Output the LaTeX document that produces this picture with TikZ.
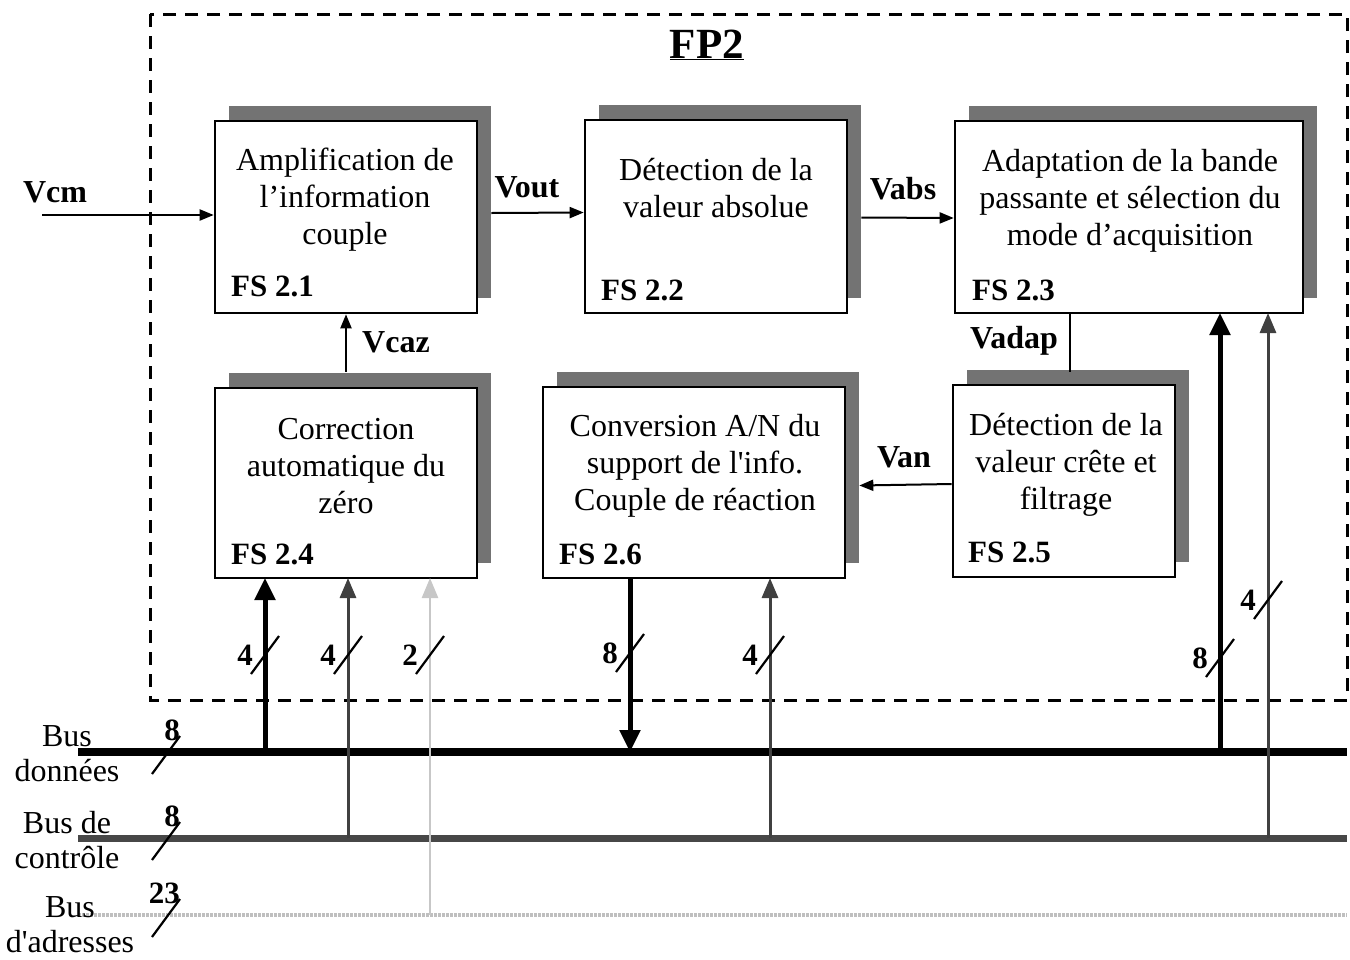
\documentclass[tikz,border=0pt]{standalone}
\usepackage{fontspec}
\setmainfont{Liberation Serif}[Ligatures=TeXOff]
\usetikzlibrary{arrows.meta,shadows,calc}
\begin{document}
\begin{tikzpicture}[x=1pt,y=-1pt,
  blk/.style={draw=black,line width=2.6pt,fill=white,inner sep=0pt,
    drop shadow={shadow xshift=14pt,shadow yshift=15pt,fill=black!55,opacity=1}},
  txt/.style={align=center,font=\fontsize{32}{37}\selectfont,inner sep=0pt},
  fslab/.style={anchor=west,font=\bfseries\fontsize{31}{34}\selectfont,inner sep=0pt},
  sig/.style={font=\bfseries\fontsize{32}{34}\selectfont,inner sep=0pt},
  num/.style={font=\bfseries\fontsize{31}{34}\selectfont,inner sep=0pt},
  thinarr/.style={line width=2pt,-{Triangle[length=14pt,width=11pt]}},
  busarrow/.style={line width=5pt,-{Triangle[length=22pt,width=20pt]}},
  ctlarrow/.style={line width=3pt,draw=black!75,-{Triangle[length=20pt,width=16pt]}},
  adrarrow/.style={line width=2.5pt,draw=black!22,-{Triangle[length=20pt,width=16pt]}},
  slash/.style={line width=2.2pt},
  buslab/.style={align=center,font=\fontsize{32}{35}\selectfont,inner sep=0pt}]
\useasboundingbox (0,0) rectangle (1350,959);
% frame
\draw[line width=3pt,dash pattern=on 13pt off 9pt] (150,14) rectangle (1347,700);
\node[font=\bfseries\fontsize{43}{46}\selectfont,inner sep=0pt] (fp2) at (707,45) {\underline{FP2}};
% blocks
\node[blk,minimum width=262pt,minimum height=192pt] (fs21) at (346,217) {};
\node[blk,minimum width=262pt,minimum height=193pt] (fs22) at (716,216.5) {};
\node[blk,minimum width=348pt,minimum height=192pt] (fs23) at (1129,217) {};
\node[blk,minimum width=262pt,minimum height=190pt] (fs24) at (346,483) {};
\node[blk,minimum width=302pt,minimum height=191pt] (fs26) at (694,482.5) {};
\node[blk,minimum width=222pt,minimum height=192pt] (fs25) at (1064,481) {};
% block texts
\node[txt] (t21) at (345,200) {Amplification de\\l’information\\couple};
\node[txt] (t22) at (716,188) {Détection de la\\valeur absolue};
\node[txt] (t23) at (1130,201) {Adaptation de la bande\\passante et sélection du\\mode d’acquisition};
\node[txt] (t24) at (346,466) {Correction\\automatique du\\zéro};
\node[txt] (t26) at (695,466) {Conversion A/N du\\support de l'info.\\Couple de réaction};
\node[txt] (t25) at (1066,465) {Détection de la\\valeur crête et\\filtrage};
\node[fslab] (l21) at (231,286) {FS 2.1};
\node[fslab] (l22) at (601,290) {FS 2.2};
\node[fslab] (l23) at (972,290) {FS 2.3};
\node[fslab] (l24) at (231,554) {FS 2.4};
\node[fslab] (l26) at (559,554) {FS 2.6};
\node[fslab] (l25) at (968,552) {FS 2.5};
% signals
\coordinate (vcmin) at (42,215);
\draw[thinarr] (vcmin) -- (fs21.west |- vcmin);
\node[sig] (vcm) at (55,192) {Vcm};
\draw[thinarr] ($(fs21.east)+(13,-4)$) -- ($(fs22.west)+(0,-4)$);
\node[sig] (vout) at (527,187) {Vout};
\draw[thinarr] ($(fs22.east)+(13,1)$) -- ($(fs23.west)+(0,1)$);
\node[sig] (vabs) at (903,189) {Vabs};
\draw[thinarr] ($(fs24.north)+(0,-15)$) -- (fs21.south);
\node[sig] (vcaz) at (396,342) {Vcaz};
\draw[line width=2pt] (fs23.south -| 1070,0) -- (1070,372);
\node[sig] (vadap) at (1014,341) {Vadap};
\draw[thinarr] ($(fs25.west)+(0,3)$) -- ($(fs26.east)+(13,3)$);
\node[sig] (van) at (904,457) {Van};
% buses
\coordinate (bd0) at (78,752); \coordinate (bd1) at (1347,752);
\coordinate (bc0) at (78,838); \coordinate (bc1) at (1347,838);
\coordinate (ba0) at (78,915); \coordinate (ba1) at (1347,915);
\draw[line width=8pt] (bd0) -- (bd1);
\draw[line width=7pt,draw=black!72] (bc0) -- (bc1);
\draw[line width=4pt,draw=black!25,dash pattern=on 3pt off 1pt] (ba0) -- (ba1);
\node[buslab] (nbd) at (67,754) {Bus\\données};
\node[buslab] (nbc) at (67,840) {Bus de\\contrôle};
\node[buslab] (nba) at (70,925) {Bus\\d'adresses};
\foreach \y/\n in {755/8,841/8,918/23}{
  \draw[slash] (152,\y+19) -- (180,\y-19);
  \node[num,anchor=south east] at (180,\y-14) {\n};
}
% vertical connections
\draw[busarrow] (265,752) -- (265,578);
\draw[ctlarrow] (348,838) -- (348,578);
\draw[adrarrow] (430,915) -- (430,578);
\draw[busarrow] (630,578) -- (630,752);
\draw[ctlarrow] (770,838) -- (770,578);
\draw[busarrow] (1220,752) -- (1220,313);
\draw[ctlarrow] (1268,838) -- (1268,313);
% width marks
\foreach \x/\y/\n in {265/655/4,348/655/4,430/655/2,630/653/8,770/655/4,1220/658/8,1268/600/4}{
  \draw[slash] (\x-14,\y+19) -- (\x+14,\y-19);
  \node[num,anchor=east] at (\x-12,\y) {\n};
}
\end{tikzpicture}
\end{document}
